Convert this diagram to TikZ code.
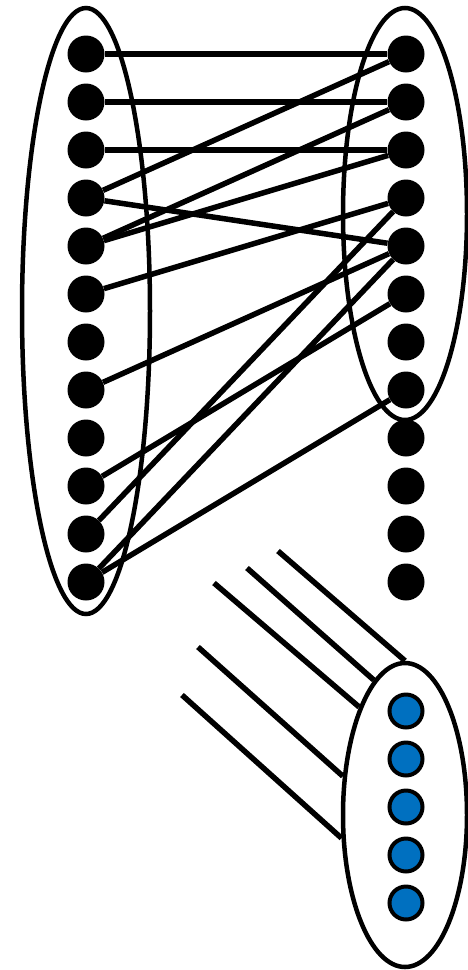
\documentclass[tikz,border=0pt]{standalone}
\usetikzlibrary{shapes.geometric}
\definecolor{dotblue}{HTML}{0070C0}
\tikzset{
  bdot/.style={circle,fill=black,minimum size=37pt,inner sep=0pt},
  cdot/.style={circle,fill=dotblue,draw=black,line width=4pt,minimum size=33pt,inner sep=0pt},
  link/.style={line width=5.5pt},
  ring/.style={ellipse,draw=black,line width=4.5pt,inner sep=0pt}
}
\begin{document}
\begin{tikzpicture}[x=1pt,y=-1pt]
\useasboundingbox (0,0) rectangle (468,970);
% groups
\node[ring,minimum width=128pt,minimum height=606pt] (LE) at (86,311) {};
\node[ring,minimum width=124pt,minimum height=412pt] (RE) at (405,214) {};
\node[ring,minimum width=124pt,minimum height=304pt] (BE) at (405,815) {};
% dots
\foreach \i in {1,...,12}{
  \node[bdot] (L\i) at (86,{54+48*(\i-1)}) {};
  \node[bdot] (R\i) at (406,{54+48*(\i-1)}) {};
}
\foreach \i in {1,...,5}{
  \node[cdot] (B\i) at (406,{711+48*(\i-1)}) {};
}
% edges
\draw[link] (L1) -- (R1);
\draw[link] (L2) -- (R2);
\draw[link] (L3) -- (R3);
\draw[link] (L4) -- (R1);
\draw[link] (L4) -- (R5);
\draw[link] (L5) -- (R2);
\draw[link] (L5) -- (R3);
\draw[link] (L6) -- (R4);
\draw[link] (L8) -- (R5);
\draw[link] (L10) -- (R6);
\draw[link] (L11) -- (R4);
\draw[link] (L12) -- (R5);
\draw[link] (L12) -- (R8);
% free lines into bottom group
\coordinate (F1) at (278,551);
\coordinate (F2) at (247,568);
\coordinate (F3) at (214,583);
\coordinate (F4) at (198,647);
\coordinate (F5) at (182,695);
\draw[link] (F1) -- (BE.north);
\draw[link] (F2) -- (BE.103);
\draw[link] (F3) -- (BE.113);
\draw[link] (F4) -- (BE.148);
\draw[link] (F5) -- (BE.200);
\end{tikzpicture}
\end{document}
